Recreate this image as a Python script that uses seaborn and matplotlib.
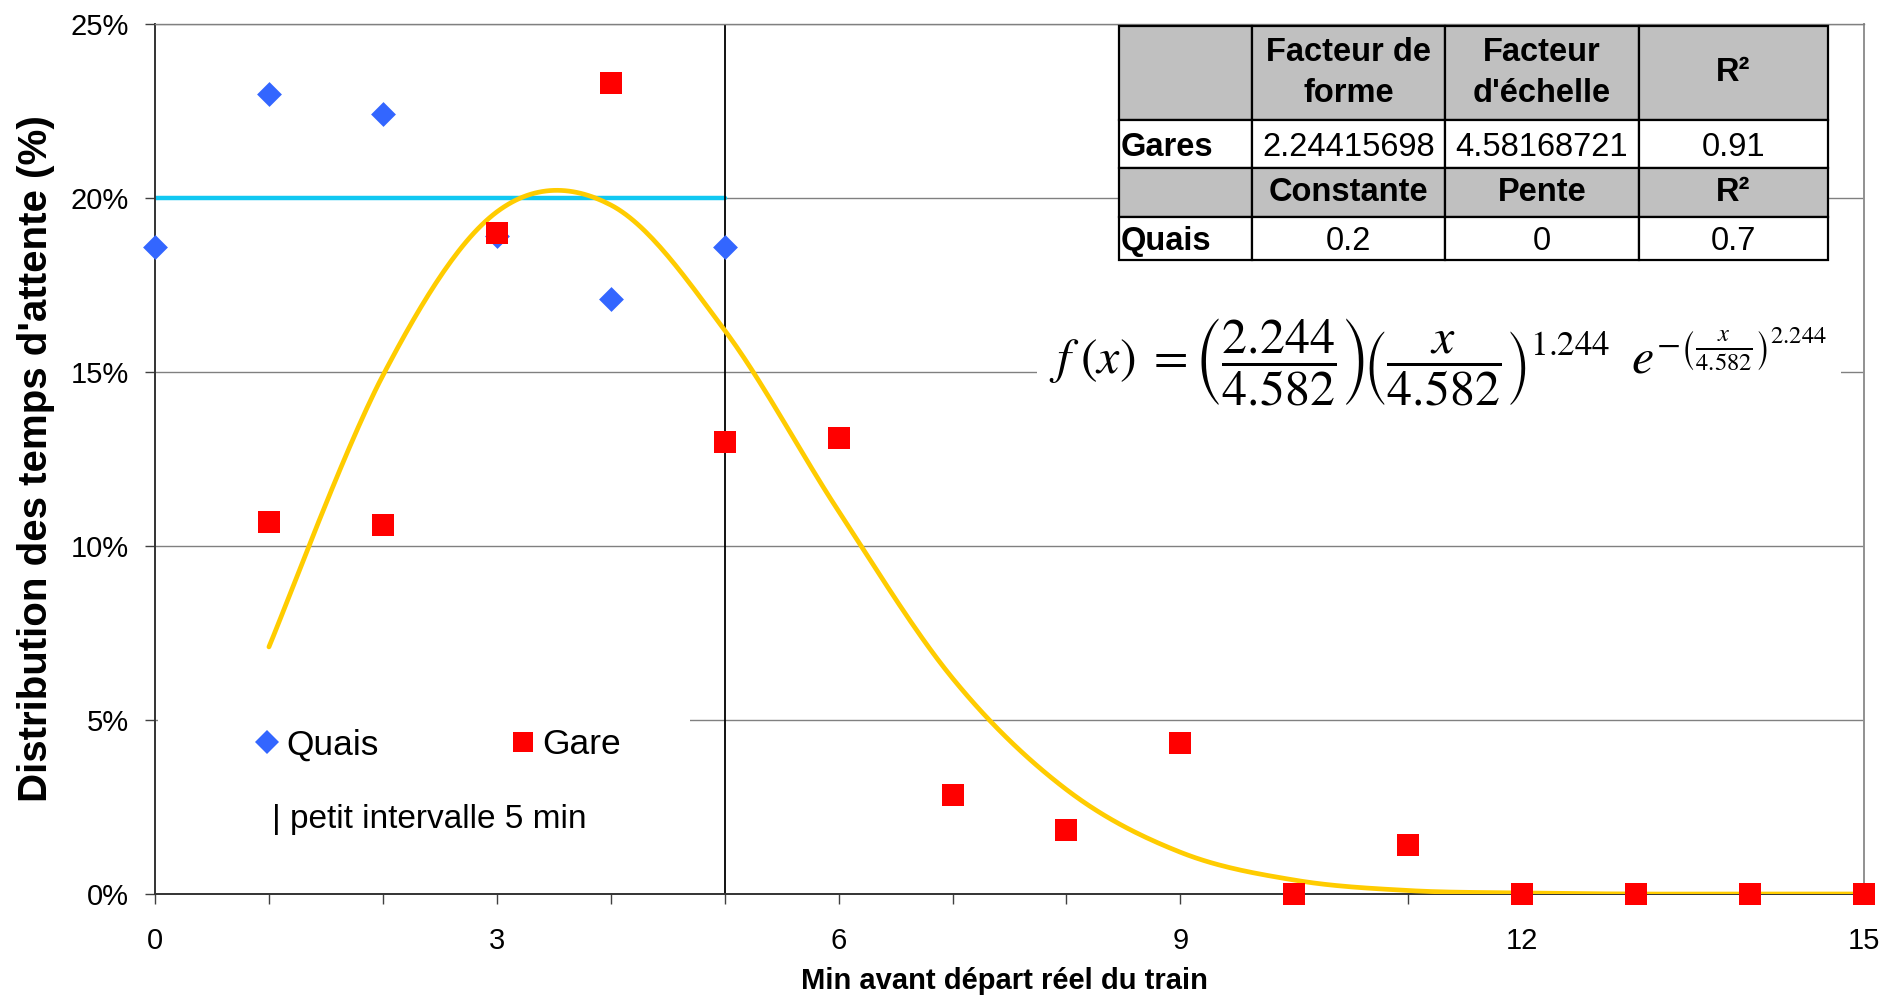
import numpy as np
import pandas as pd
import matplotlib
matplotlib.use("Agg")
import matplotlib.pyplot as plt
import seaborn as sns
from matplotlib.ticker import PercentFormatter
from matplotlib.patches import Rectangle
from matplotlib.lines import Line2D

# ---------------- data ----------------
quais_min = [0, 1, 2, 3, 4, 5]
quais_pct = [18.6, 23.0, 22.4, 18.9, 17.1, 18.6]

gare_min = [1, 2, 3, 4, 5, 6, 7, 8, 9, 10, 11, 12, 13, 14, 15]
gare_pct = [10.7, 10.6, 19.0, 23.3, 13.0, 13.1, 2.85, 1.85, 4.35, 0.0, 1.4, 0.0, 0.0, 0.0, 0.0]

fit_min = [1, 2, 3, 4, 5, 6, 7, 8, 9, 10, 11, 12, 13, 14, 15]
fit_pct = [7.1, 14.9, 19.6, 19.8, 16.2, 11.0, 6.2, 3.0, 1.2, 0.4, 0.1, 0.03, 0.0, 0.0, 0.0]

quais_const_min = [0, 5]
quais_const_pct = [20.0, 20.0]

interval_min = 5

x_ticks = [0, 3, 6, 9, 12, 15]
y_ticks = [0, 5, 10, 15, 20, 25]

table_rows = [
    ["", "Facteur de\nforme", "Facteur\nd'échelle", "R²"],
    ["Gares", "2.24415698", "4.58168721", "0.91"],
    ["", "Constante", "Pente", "R²"],
    ["Quais", "0.2", "0", "0.7"],
]
equation = (r"$f\;(x)\;=\left(\dfrac{2.244}{4.582}\right)\!\left(\dfrac{x}{4.582}\right)^{1.244}"
            r"\;\; e^{-\left(\frac{x}{4.582}\right)^{2.244}}$")


def smooth(xv, yv, n=30):
    """Catmull-Rom smoothing of a polyline (like a spreadsheet's smoothed line)."""
    p = np.column_stack([xv, yv]).astype(float)
    p = np.vstack([p[0], p, p[-1]])
    out = []
    t = np.linspace(0, 1, n, endpoint=False)[:, None]
    for i in range(1, len(p) - 2):
        p0, p1, p2, p3 = p[i - 1], p[i], p[i + 1], p[i + 2]
        seg = 0.5 * (2 * p1 + (-p0 + p2) * t + (2 * p0 - 5 * p1 + 4 * p2 - p3) * t ** 2
                     + (-p0 + 3 * p1 - 3 * p2 + p3) * t ** 3)
        out.append(seg)
    out.append(p[-2][None, :])
    out = np.vstack(out)
    return out[:, 0], out[:, 1]


# ---------------- style ----------------
sns.set_style("white")
plt.rcParams["font.family"] = ["Liberation Sans", "DejaVu Sans"]
plt.rcParams["mathtext.fontset"] = "stix"
plt.rcParams["text.color"] = "black"
plt.rcParams["axes.labelcolor"] = "black"
plt.rcParams["xtick.color"] = "black"
plt.rcParams["ytick.color"] = "black"

fig = plt.figure(figsize=(18.87, 10.08), dpi=100)
ax = fig.add_axes([155 / 1887, 1 - 894 / 1008, 1709 / 1887, 870 / 1008])

# gridlines
ax.set_axisbelow(True)
ax.yaxis.grid(True, color="#808080", lw=1.0, zorder=0)
ax.xaxis.grid(False)

# white boxes (legend and equation backgrounds) that hide the gridlines
ax.add_patch(Rectangle((0.002, 0.04), 0.311, 0.18, transform=ax.transAxes,
                       facecolor="white", edgecolor="none", zorder=1))
ax.add_patch(Rectangle((0.516, 0.55), 0.4706, 0.15, transform=ax.transAxes,
                       facecolor="white", edgecolor="none", zorder=1))

# Quais constant fit line
sns.lineplot(x=quais_const_min, y=quais_const_pct, color="#11C8F2", lw=3.2,
             ax=ax, zorder=2, estimator=None, sort=False)
# 5-minute interval vertical line
ax.axvline(interval_min, color="black", lw=1.3, zorder=2)

# Weibull fit (smoothed)
sx, sy = smooth(fit_min, fit_pct)
sns.lineplot(x=sx, y=sy, color="#FFCC00", lw=3.4, ax=ax, zorder=3,
             estimator=None, sort=False)

# data points
sns.scatterplot(x=quais_min, y=quais_pct, marker="D", s=160, color="#3366FF",
                linewidth=0, ax=ax, zorder=4, clip_on=False)
sns.scatterplot(x=gare_min, y=gare_pct, marker="s", s=235, color="#FF0000",
                linewidth=0, ax=ax, zorder=5, clip_on=False)

# axes
ax.set_xlim(0, 15)
ax.set_ylim(0, 25)
ax.set_xticks(x_ticks)
ax.set_xticks(range(0, 16), minor=True)
ax.set_yticks(y_ticks)
ax.yaxis.set_major_formatter(PercentFormatter(xmax=100, decimals=0))
ax.tick_params(axis="x", which="both", direction="out", length=7, width=1,
               color="#404040", labelcolor="black", labelsize=21, pad=17, bottom=True)
ax.tick_params(axis="y", which="both", direction="out", length=7, width=1,
               color="#404040", labelcolor="black", labelsize=21, pad=12, left=True)
for s in ["left", "bottom"]:
    ax.spines[s].set_color("#333333")
    ax.spines[s].set_linewidth(1.4)
ax.spines["right"].set_color("#909090")
ax.spines["right"].set_linewidth(1.4)
ax.spines["top"].set_color("#808080")
ax.spines["top"].set_linewidth(1.0)

ax.set_ylabel("Distribution des temps d'attente (%)", fontsize=29, fontweight="bold",
              color="black")
ax.yaxis.label.set_va("center")
ax.yaxis.set_label_coords(-0.0696, 0.5)
ax.set_xlabel("Min avant départ réel du train", fontsize=21, fontweight="bold",
              color="black")
ax.xaxis.label.set_va("center")
ax.xaxis.set_label_coords(0.497, -0.1)

# legend
handles = [Line2D([], [], ls="none", marker="D", ms=12, color="#3366FF", mew=0),
           Line2D([], [], ls="none", marker="s", ms=15, color="#FF0000", mew=0)]
leg = fig.legend(handles, ["Quais", "Gare"], ncol=2, loc="center left",
                 bbox_to_anchor=(256.6 / 1887, 1 - 745 / 1008), frameon=False,
                 fontsize=25.5, handlelength=0.6, handletextpad=0.25,
                 columnspacing=3.75, borderpad=0, borderaxespad=0, labelcolor="black")
leg.set_zorder(6)
ax.text(0.0685, 0.0854, "| petit intervalle 5 min", transform=ax.transAxes,
        fontsize=24, ha="left", va="center", zorder=6, color="black")

# equation
ax.text(0.7507, 0.612, equation, transform=ax.transAxes, fontsize=36,
        ha="center", va="center", zorder=6, color="black")

# parameter table
col_w = [133, 193, 194, 189]
row_h = [94, 48, 49, 43]
tbl = ax.table(cellText=table_rows, cellLoc="center", colWidths=[w / sum(col_w) for w in col_w],
               bbox=[(1119 - 155) / 1709, (894 - 260) / 870, (1828 - 1119) / 1709, (260 - 26) / 870])
tbl.auto_set_font_size(False)
tbl.set_zorder(7)
for (r, c), cell in tbl.get_celld().items():
    cell.set_height(row_h[r] / sum(row_h))
    cell.set_linewidth(1.6)
    cell.set_edgecolor("black")
    txt = cell.get_text()
    txt.set_fontsize(23.5)
    txt.set_color("black")
    txt.set_linespacing(1.4)
    if r in (0, 2):
        cell.set_facecolor("#C0C0C0")
        txt.set_fontweight("bold")
    else:
        cell.set_facecolor("white")
        txt.set_va("center_baseline")
        if c == 0:
            txt.set_fontweight("bold")
            txt.set_ha("left")
            cell.PAD = 0.01

fig.savefig("out.png", dpi=100)
